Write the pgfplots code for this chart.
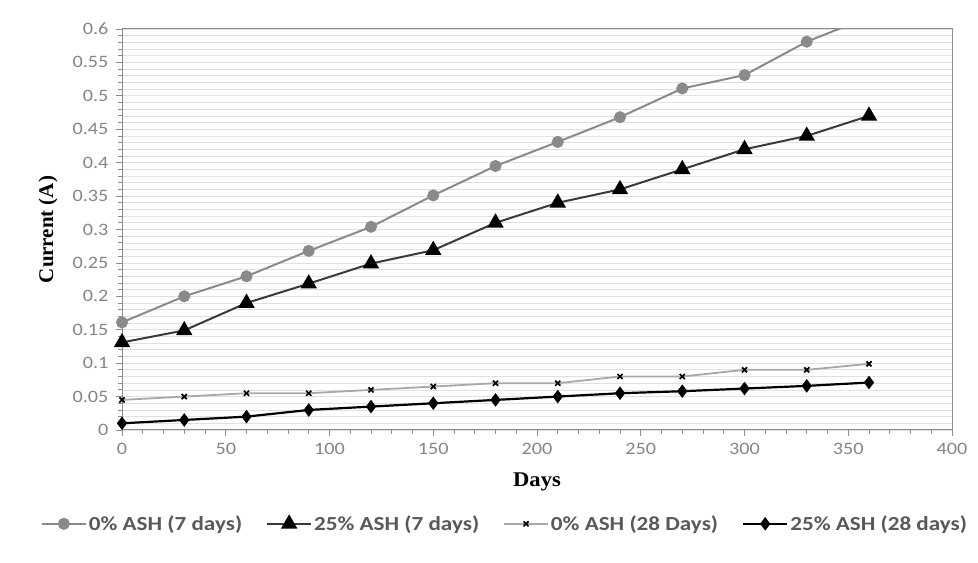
\documentclass[border=0pt]{standalone}
\usepackage{pgfplots}
\pgfplotsset{compat=1.18}
\usepackage{fontspec}
\setmainfont{Carlito}[FakeStretch=1.16]
\newfontfamily\serifbf{Liberation Serif}[FakeStretch=1.08]
\newfontfamily\serifrot{Liberation Serif}
\definecolor{tickgray}{HTML}{858585}
\definecolor{leggray}{HTML}{595959}
\definecolor{gridgray}{HTML}{E0E0E0}
\definecolor{framegray}{HTML}{8C8C8C}
\definecolor{sergray}{HTML}{8A8A8A}
\definecolor{lightser}{HTML}{A8A8A8}
\definecolor{darkser}{HTML}{3A3A3A}
\begin{document}
\begin{tikzpicture}[x=1bp,y=1bp]
\path (0,0) rectangle (978,563);
\begin{axis}[
  at={(122bp,133bp)}, anchor=south west,
  scale only axis, width=830bp, height=401bp,
  xmin=0, xmax=400, ymin=0, ymax=0.6,
  xtick={0,50,...,400}, ytick={0,0.05,...,0.61},
  minor x tick num=4, minor y tick num=4,
  tick pos=left, tick align=outside,
  major tick length=6bp, minor tick length=4bp,
  every tick/.style={framegray, line width=0.8bp},
  axis line style={framegray, line width=1bp},
  ymajorgrids, yminorgrids,
  major grid style={gridgray, line width=0.8bp},
  minor grid style={gridgray, line width=0.7bp},
  /pgf/number format/assume math mode=true,
  yticklabel style={/pgf/number format/fixed, /pgf/number format/precision=2, font=\fontsize{17.5}{19}\selectfont, text=tickgray, xshift=-4bp},
  xticklabel style={font=\fontsize{17.5}{19}\selectfont, text=tickgray, yshift=-4bp},
  scaled y ticks=false,
  xlabel={\serifbf\bfseries Days},
  ylabel={\serifrot\bfseries Current (A)},
  every axis x label/.style={at={(axis description cs:0.5,-0.13)}, anchor=center, font=\fontsize{21}{23}\selectfont},
  every axis y label/.style={at={(axis description cs:-0.089,0.5)}, anchor=center, rotate=90, font=\fontsize{21}{23}\selectfont},
  legend columns=4,
  legend style={draw=none, fill=none, at={(0.4614,-0.234)}, anchor=center,
    font=\fontsize{20}{22}\selectfont\bfseries, text=leggray,
    nodes={inner xsep=2bp},
    /tikz/every odd column/.append style={column sep=0bp},
    /tikz/every even column/.append style={column sep=22bp}},
  legend image code/.code={\draw[mark repeat=2,mark phase=2] plot coordinates {(0bp,0bp) (22bp,0bp) (44bp,0bp)};},
]
\addplot[sergray, line width=2bp, mark=*, mark size=5bp, mark options={fill=sergray, draw=sergray}]
coordinates {(0,0.161) (30,0.200) (60,0.230) (90,0.268) (120,0.304) (150,0.351) (180,0.395) (210,0.431) (240,0.468) (270,0.511) (300,0.531) (330,0.581) (360,0.618)};
\addlegendentry{0\% ASH (7 days)}
\addplot[darkser, line width=2bp, mark=triangle*, mark size=7.5bp, mark options={fill=black, draw=black}]
coordinates {(0,0.131) (30,0.149) (60,0.190) (90,0.219) (120,0.249) (150,0.269) (180,0.310) (210,0.340) (240,0.360) (270,0.390) (300,0.420) (330,0.440) (360,0.470)};
\addlegendentry{25\% ASH (7 days)}
\addplot[lightser, line width=1.8bp, mark=x, mark size=3.6bp, mark options={draw=black, line width=1.7bp}]
coordinates {(0,0.045) (30,0.050) (60,0.055) (90,0.055) (120,0.060) (150,0.065) (180,0.070) (210,0.070) (240,0.080) (270,0.080) (300,0.090) (330,0.090) (360,0.099)};
\addlegendentry{0\% ASH (28 Days)}
\addplot[black, line width=2.2bp, mark=diamond*, mark size=5bp, mark options={fill=black, draw=black}]
coordinates {(0,0.010) (30,0.015) (60,0.020) (90,0.030) (120,0.035) (150,0.040) (180,0.045) (210,0.050) (240,0.055) (270,0.058) (300,0.062) (330,0.066) (360,0.071)};
\addlegendentry{25\% ASH (28 days)}
\end{axis}
\end{tikzpicture}
\end{document}
